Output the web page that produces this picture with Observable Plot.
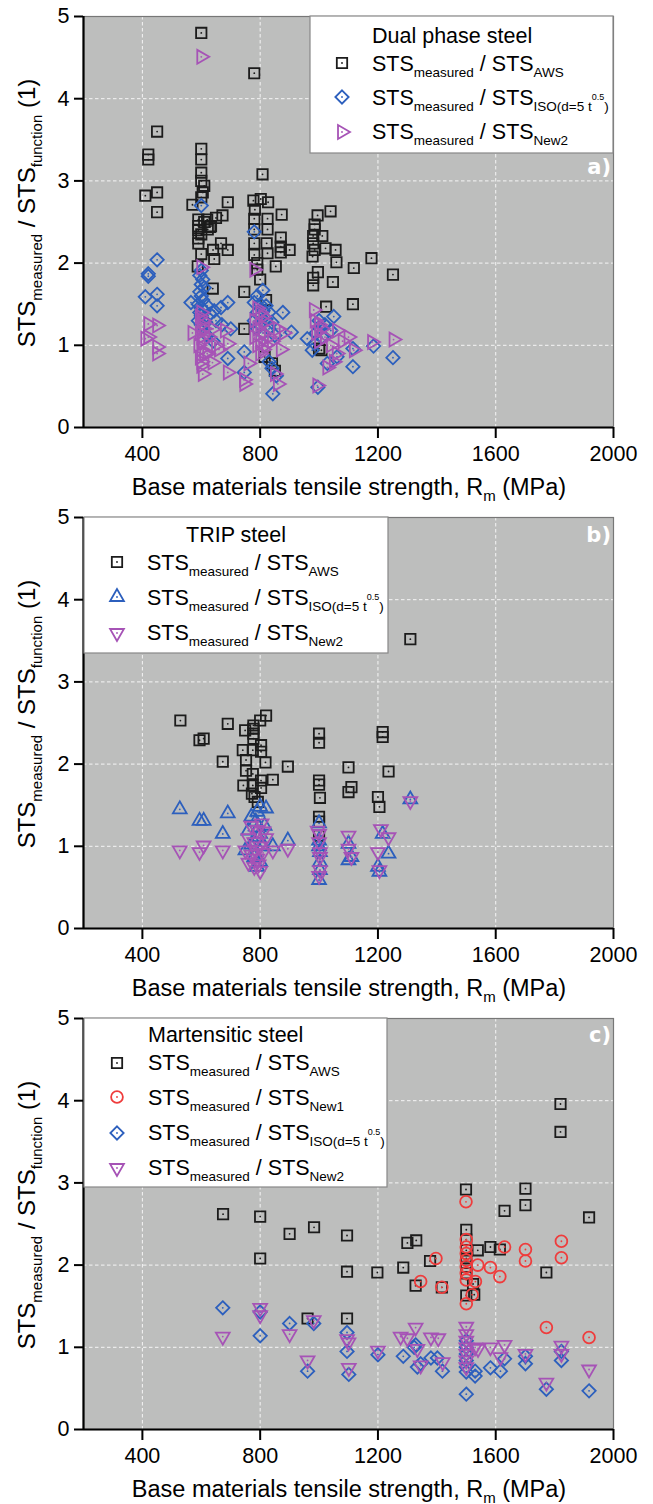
<!DOCTYPE html>
<html><head><meta charset="utf-8">
<script src="https://cdn.jsdelivr.net/npm/d3@7"></script>
<script src="https://cdn.jsdelivr.net/npm/@observablehq/plot@0.6"></script>
<style>
body{margin:0;background:#fff;}
#wrap{width:653px;}
#wrap svg{display:block;}
</style>
</head><body><div id="wrap"></div>
<script>
// ---------- axes ----------
const xTicks = [400, 800, 1200, 1600, 2000];
const yTicks = [0, 1, 2, 3, 4, 5];
const xDomain = [200, 2000];
const yDomain = [0, 5];

// ---------- a) Dual phase steel ----------
const dpAws = [[410,2.82],[420,3.32],[420,3.26],[450,3.60],[450,2.86],[450,2.62],
[600,4.80],[780,4.31],
[600,3.39],[600,3.26],[600,3.10],[600,3.00],[610,2.94],[605,2.86],[600,2.80],[570,2.71],[690,2.74],
[590,2.53],[590,2.45],[590,2.40],[590,2.30],[590,2.24],[600,2.35],[610,2.50],[620,2.53],[622,2.41],[630,2.44],[650,2.55],[672,2.58],[633,2.45],[667,2.24],[690,2.16],[640,2.16],[644,2.05],[600,2.11],[588,1.96],[639,1.69],[746,1.65],[746,1.20],
[808,3.08],[777,2.76],[802,2.78],[827,2.74],[782,2.65],[873,2.59],[780,2.54],[825,2.54],[870,2.31],[870,2.20],[870,2.13],[900,2.16],[780,2.41],[780,2.24],[780,2.10],[825,2.41],[822,2.24],[825,2.12],[853,1.96],[800,1.80],[790,2.00],[790,1.92],[840,0.78],[850,0.69],[820,1.55],[815,0.86],
[1039,2.63],[995,2.58],[985,2.47],[985,2.41],[980,2.33],[980,2.24],[985,2.16],[978,2.08],[1011,2.33],[1022,2.18],[1056,2.16],[1059,2.01],[1118,1.94],[1178,2.06],[1251,1.86],[996,1.89],[980,1.82],[980,1.73],[1047,1.77],[1024,1.47],[1115,1.50],[1000,0.96],[1008,0.94]];
const dpIso = [[450,2.04],[420,1.87],[420,1.84],[410,1.59],[450,1.62],[450,1.48],
[600,2.70],[780,2.38],
[600,1.91],[595,1.85],[605,1.80],[600,1.74],[610,1.70],[595,1.65],[600,1.60],[605,1.55],[590,1.50],[600,1.45],[610,1.42],[595,1.40],[600,1.36],[605,1.32],[590,1.30],[615,1.28],[600,1.25],[565,1.52],[620,1.48],[630,1.38],[644,1.42],[667,1.46],[690,1.52],[650,1.30],[670,1.25],[700,1.20],[690,0.84],[746,0.92],[746,0.67],[620,1.12],[640,1.05],
[809,1.67],[790,1.60],[780,1.52],[800,1.50],[820,1.48],[810,1.42],[790,1.40],[830,1.40],[800,1.35],[780,1.30],[820,1.32],[840,1.28],[800,1.25],[790,1.20],[830,1.20],[810,1.15],[850,1.12],[877,1.40],[906,1.16],[843,0.41],[855,0.63],[840,0.72],[830,0.80],
[1251,0.85],[1115,0.74],[996,0.49],[1115,0.96],[1185,0.99],[977,0.94],[1050,1.35],[1028,0.78],[1061,0.86],[960,1.08],[990,1.15],[1000,1.22],[1010,1.10],[1020,1.25],[1040,1.18],[1000,1.30],[985,1.02]];
const dpNew2 = [[600,4.51],[420,1.26],[450,1.24],[410,1.08],[420,1.10],[450,0.98],[450,0.90],
[600,1.95],[600,1.40],[595,1.35],[605,1.30],[600,1.25],[610,1.20],[595,1.15],[600,1.10],[605,1.05],[590,1.00],[600,0.95],[610,0.90],[595,0.85],[600,0.80],[600,0.75],[605,0.65],[570,1.15],[625,1.10],[640,1.20],[650,1.00],[660,0.95],[690,1.02],[690,0.67],[638,0.79],[746,0.53],[620,0.90],[680,1.18],
[780,1.92],[790,1.45],[800,1.40],[810,1.35],[780,1.30],[800,1.25],[820,1.28],[790,1.20],[810,1.15],[830,1.10],[780,1.10],[800,1.05],[790,1.00],[820,1.00],[840,1.05],[810,0.95],[800,0.90],[860,1.20],[880,1.15],[860,0.53],[850,0.65],[870,0.95],[760,0.78],[745,0.58],
[1253,1.07],[1180,1.04],[1118,0.94],[994,0.51],[1028,0.73],[982,1.43],[1061,1.18],[985,1.30],[1000,1.25],[1010,1.20],[990,1.15],[1020,1.10],[1000,1.05],[1040,1.00],[1080,1.05],[1100,1.10],[1060,0.90],[1050,0.80]];

// ---------- b) TRIP steel ----------
const tripAws = [[529,2.53],[690,2.49],[594,2.29],[608,2.31],[673,2.03],[820,2.59],[800,2.53],[777,2.47],[777,2.43],[777,2.37],[777,2.31],[749,2.41],[803,2.23],[803,2.15],[741,2.17],[775,2.17],[752,2.05],[818,2.02],[894,1.97],[843,1.81],[752,1.92],[775,1.88],[743,1.74],[775,1.74],[803,1.80],[803,1.71],[772,1.64],[781,1.60],[792,1.54],
[1000,2.37],[1000,2.26],[1000,1.80],[1000,1.75],[1003,1.59],[1000,1.36],[1000,1.30],[1000,1.13],[1100,1.96],[1110,1.72],[1100,1.66],[1216,2.39],[1216,2.33],[1236,1.91],[1200,1.60],[1205,1.48],[1310,3.52]];
const tripIso = [[527,1.45],[594,1.31],[608,1.31],[690,1.40],[673,1.15],[894,1.07],[843,1.00],[790,1.42],[800,1.48],[820,1.46],[770,1.36],[785,1.30],[795,1.23],[760,1.19],[795,1.11],[750,0.95],[780,0.87],[800,0.81],[790,0.75],[780,1.05],[810,1.00],[770,1.02],[800,1.15],[815,1.25],
[1000,1.28],[1000,1.07],[1003,0.93],[1003,0.81],[1003,0.71],[1000,0.59],[1000,1.00],[1100,1.03],[1100,0.83],[1110,0.87],[1216,1.15],[1236,0.91],[1200,0.75],[1205,0.69],[1310,1.57]];
const tripNew2 = [[527,0.95],[594,0.93],[608,1.01],[673,0.95],[894,0.97],[843,0.95],[770,1.25],[790,1.20],[805,1.28],[760,1.10],[780,1.05],[800,1.00],[820,1.10],[750,0.95],[770,0.90],[790,0.85],[810,0.92],[760,0.80],[780,0.75],[800,0.70],[785,0.95],[795,0.78],[812,1.18],
[995,1.19],[1000,1.15],[1003,0.93],[1003,0.87],[1003,0.71],[1000,0.64],[1000,1.05],[1100,1.13],[1100,0.97],[1110,0.87],[1210,1.21],[1236,1.11],[1200,0.93],[1205,0.71],[1310,1.55]];

// ---------- c) Martensitic steel ----------
const martAws = [[674,2.62],[800,2.59],[800,2.08],[900,2.38],[983,2.46],[1095,2.36],[1095,1.92],[1198,1.91],[1286,1.97],[1300,2.27],[1330,2.30],[1377,2.05],[1328,1.75],[1417,1.73],[961,1.35],[1095,1.35],
[1499,2.92],[1701,2.93],[1701,2.73],[1630,2.66],[1917,2.58],[1500,2.43],[1500,2.31],[1500,2.18],[1500,2.08],[1500,1.98],[1500,1.90],[1539,2.18],[1582,2.22],[1614,2.19],[1523,1.77],[1527,1.64],[1500,1.63],[1772,1.91],[1820,3.96],[1820,3.62]];
const martNew1 = [[1499,2.77],[1500,2.31],[1500,2.22],[1500,2.14],[1500,2.06],[1500,1.98],[1500,1.90],[1500,1.82],[1500,1.53],[1539,2.00],[1531,1.80],[1520,1.64],[1582,1.97],[1614,1.86],[1630,2.22],[1701,2.19],[1701,2.05],[1823,2.29],[1823,2.09],[1772,1.24],[1917,1.12],[1397,2.08],[1345,1.80],[1417,1.73]];
const martIso = [[673,1.48],[800,1.43],[800,1.14],[900,1.29],[982,1.29],[961,0.71],[1095,1.18],[1095,0.95],[1101,0.67],[1200,0.91],[1286,0.89],[1323,1.00],[1334,0.76],[1345,0.80],[1380,0.87],[1402,0.87],[1419,0.71],[1328,1.03],
[1500,1.08],[1500,1.00],[1500,0.92],[1500,0.84],[1500,0.76],[1500,0.70],[1500,0.43],[1530,0.71],[1530,0.65],[1582,0.75],[1616,0.71],[1630,0.86],[1701,0.89],[1701,0.80],[1772,0.49],[1823,0.95],[1823,0.84],[1917,0.47]];
const martNew2 = [[673,1.13],[800,1.48],[800,1.39],[900,1.16],[982,1.33],[961,0.84],[1095,1.10],[1100,1.06],[1101,0.75],[1200,0.96],[1277,1.13],[1300,1.11],[1328,1.24],[1334,0.98],[1380,1.12],[1405,1.11],[1345,0.78],[1420,0.82],
[1500,1.25],[1500,1.16],[1500,1.08],[1500,1.00],[1500,0.92],[1500,0.84],[1500,0.76],[1530,1.00],[1540,0.98],[1582,1.00],[1630,1.03],[1616,0.88],[1701,0.92],[1772,0.57],[1823,1.02],[1823,0.92],[1917,0.73]];

// ---------- style ----------
const BG = "#bdbebd";
const C_BLACK = "#1c1c1c", C_BLUE = "#2c5fbd", C_MAG = "#a653b6", C_RED = "#ef3c3c";
const FONT = "'Liberation Sans', Arial, sans-serif";

const rightTri = {draw(ctx, size){const k=Math.sqrt(size)*0.6824,t=k/2,u=k*Math.sqrt(3)/2;ctx.moveTo(k,0);ctx.lineTo(-t,-u);ctx.lineTo(-t,u);ctx.closePath();}};
const downTri = {draw(ctx, size){const k=Math.sqrt(size)*0.6824,t=k/2,u=k*Math.sqrt(3)/2;ctx.moveTo(0,k);ctx.lineTo(-u,-t);ctx.lineTo(u,-t);ctx.closePath();}};
const upTri = {draw(ctx, size){const k=Math.sqrt(size)*0.6824,t=k/2,u=k*Math.sqrt(3)/2;ctx.moveTo(0,-k);ctx.lineTo(-u,t);ctx.lineTo(u,t);ctx.closePath();}};
const square = {draw(ctx, size){const s=Math.sqrt(size)*0.4431;ctx.rect(-s,-s,2*s,2*s);}};
const diamond = {draw(ctx, size){const r=Math.sqrt(size)*0.62625;ctx.moveTo(0,-r);ctx.lineTo(r,0);ctx.lineTo(0,r);ctx.lineTo(-r,0);ctx.closePath();}};
const circle = {draw(ctx, size){const r=Math.sqrt(size/Math.PI)*0.92;ctx.moveTo(r,0);ctx.arc(0,0,r,0,2*Math.PI);}};

const S_AWS = {sym: square, r: 6.6, color: C_BLACK, sub: [["AWS"]]};
const S_NEW1 = {sym: circle, r: 6.4, color: C_RED, sub: [["New1"]]};
const S_ISOd = {sym: diamond, r: 6.0, color: C_BLUE, sub: [["ISO(d=5 t"],["0.5","sup"],[")"]]};
const S_ISOt = {sym: upTri, r: 6.6, color: C_BLUE, sub: [["ISO(d=5 t"],["0.5","sup"],[")"]]};
const S_NEW2r = {sym: rightTri, r: 6.6, color: C_MAG, sub: [["New2"]]};
const S_NEW2d = {sym: downTri, r: 6.6, color: C_MAG, sub: [["New2"]]};

const panels = [
  {h: 501, letter: "a)", letterY: 174,
   series: [[dpAws, S_AWS], [dpIso, S_ISOd], [dpNew2, S_NEW2r]],
   legend: {box: [310, 16, 613, 153], title: "Dual phase steel", titleX: 372, titleY: 43, titleAnchor: "start",
            symX: 342, textX: 372, rows: [71, 105, 139], symY: [63, 97, 132]}},
  {h: 501, letter: "b)", letterY: 41,
   series: [[tripAws, S_AWS], [tripIso, S_ISOt], [tripNew2, S_NEW2d]],
   legend: {box: [84, 16, 388, 152], title: "TRIP steel", titleX: 236, titleY: 41, titleAnchor: "middle",
            symX: 117, textX: 147, rows: [69, 104, 139], symY: [61, 96, 132]}},
  {h: 502, letter: "c)", letterY: 40,
   series: [[martAws, S_AWS], [martNew1, S_NEW1], [martIso, S_ISOd], [martNew2, S_NEW2d]],
   legend: {box: [84, 16, 387, 185], title: "Martensitic steel", titleX: 148, titleY: 40, titleAnchor: "start",
            symX: 117, textX: 148, rows: [68, 103, 138, 173], symY: [61, 95, 131, 166]}}
];

const wrap = document.getElementById("wrap");

for (const p of panels) {
  const marks = [
    Plot.frame({fill: BG, stroke: null}),
    Plot.gridX(xTicks.slice(0, 4), {stroke: "#ffffff", strokeOpacity: 0.85, strokeWidth: 1, strokeDasharray: "3.5,2.5"}),
    Plot.gridY(yTicks.slice(1, 5), {stroke: "#ffffff", strokeOpacity: 0.85, strokeWidth: 1, strokeDasharray: "3.5,2.5"}),
    Plot.frame({stroke: "#777", strokeWidth: 1.2})
  ];
  for (const [data, s] of p.series) {
    marks.push(Plot.dot(data, {x: d => d[0], y: d => d[1], symbol: s.sym, r: s.r, fill: "none", stroke: s.color, strokeWidth: 1.8}));
    marks.push(Plot.dot(data, {x: d => d[0], y: d => d[1], r: 0.9, fill: s.color, stroke: null}));
  }
  marks.push(
    Plot.ruleX([xDomain[0]], {stroke: "#000", strokeWidth: 2.2}),
    Plot.ruleY([yDomain[0]], {stroke: "#000", strokeWidth: 2.2}),
    Plot.axisX({ticks: xTicks, tickSize: 11, tickPadding: 7, fontSize: 21.5, label: null, strokeWidth: 2, tickFormat: d => String(d)}),
    Plot.axisY({ticks: yTicks, tickSize: 9, tickPadding: 5, fontSize: 21.5, label: null, strokeWidth: 2, tickFormat: d => String(d)})
  );
  const svg = Plot.plot({
    width: 653, height: p.h,
    marginTop: 16, marginBottom: p.h - 427, marginLeft: 83, marginRight: 40,
    x: {domain: xDomain}, y: {domain: yDomain},
    style: {fontFamily: FONT, color: "#000", background: "#fff", overflow: "visible"},
    marks
  });
  const g = d3.select(svg);

  // y-axis title
  const yt = g.append("text").attr("transform", "translate(35,213) rotate(-90)")
    .attr("text-anchor", "middle").attr("font-family", FONT).attr("fill", "#000").attr("font-size", 24);
  yt.append("tspan").text("STS");
  yt.append("tspan").attr("font-size", 15).attr("dy", 7).text("measured");
  yt.append("tspan").attr("dy", -7).text(" / STS");
  yt.append("tspan").attr("font-size", 15).attr("dy", 7).text("function");
  yt.append("tspan").attr("dy", -7).text(" (1)");

  // x-axis title
  const xt = g.append("text").attr("x", 349).attr("y", 495).attr("text-anchor", "middle")
    .attr("font-family", FONT).attr("fill", "#000").attr("font-size", 23.5);
  xt.append("tspan").text("Base materials tensile strength, R");
  xt.append("tspan").attr("font-size", 15).attr("dy", 6).text("m");
  xt.append("tspan").attr("dy", -6).text(" (MPa)");

  // panel letter
  g.append("text").attr("x", 611).attr("y", p.letterY).attr("text-anchor", "end")
    .attr("font-family", "'DejaVu Sans', sans-serif").attr("font-weight", "bold").attr("font-size", 21)
    .attr("fill", "#fff").text(p.letter);

  // legend
  const L = p.legend;
  g.append("rect").attr("x", L.box[0]).attr("y", L.box[1]).attr("width", L.box[2] - L.box[0]).attr("height", L.box[3] - L.box[1])
    .attr("fill", "#fff").attr("stroke", "#888").attr("stroke-width", 1.2);
  g.append("text").attr("x", L.titleX).attr("y", L.titleY).attr("text-anchor", L.titleAnchor)
    .attr("font-family", FONT).attr("font-size", 21.5).attr("fill", "#000").text(L.title);
  p.series.forEach(([data, s], i) => {
    const size = s.r * s.r * Math.PI;
    const path = d3.path(); s.sym.draw(path, size);
    g.append("path").attr("d", path.toString()).attr("transform", `translate(${L.symX},${L.symY[i]})`)
      .attr("fill", "none").attr("stroke", s.color).attr("stroke-width", 1.8);
    g.append("circle").attr("cx", L.symX).attr("cy", L.symY[i]).attr("r", 0.9).attr("fill", s.color);
    const t = g.append("text").attr("x", L.textX).attr("y", L.rows[i]).attr("text-anchor", "start")
      .attr("font-family", FONT).attr("font-size", 21.5).attr("fill", "#000");
    t.append("tspan").text("STS");
    t.append("tspan").attr("font-size", 13.5).attr("dy", 6).text("measured");
    t.append("tspan").attr("dy", -6).text(" / STS");
    let dy = 6;
    for (const [txt, kind] of s.sub) {
      if (kind === "sup") { t.append("tspan").attr("font-size", 9).attr("dy", dy - 11).text(txt); dy = 11; }
      else { t.append("tspan").attr("font-size", 13.5).attr("dy", dy).text(txt); dy = 0; }
    }
  });
  wrap.appendChild(svg);
}
</script>
</body></html>
